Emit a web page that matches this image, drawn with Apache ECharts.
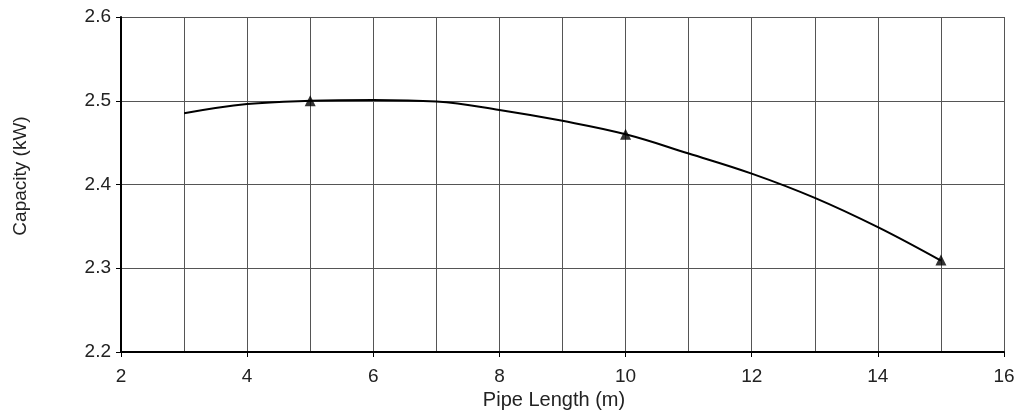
<!DOCTYPE html>
<html>
<head>
<meta charset="utf-8">
<script src="https://cdn.jsdelivr.net/npm/echarts@6/dist/echarts.min.js"></script>
<style>html,body{margin:0;padding:0;background:#fff}#c{width:1027px;height:418px}</style>
</head>
<body>
<div id="c"></div>
<script>
const curveX = [3, 4, 5, 6, 7, 8, 9, 10, 11, 12, 13, 14, 15];
const curveY = [2.485, 2.496, 2.500, 2.501, 2.499, 2.489, 2.476, 2.460, 2.437, 2.413, 2.384, 2.349, 2.309];
const markerX = [5, 10, 15];
const markerY = [2.50, 2.46, 2.31];
const xTitle = 'Pipe Length (m)';
const yTitle = 'Capacity (kW)';

const chart = echarts.init(document.getElementById('c'), null, {renderer: 'canvas'});
const font = 'Liberation Sans, Arial, Helvetica, sans-serif';
const gridStyle = {color: '#555', width: 1};
chart.setOption({
  animation: false,
  backgroundColor: '#fff',
  grid: {left: 121, right: 23, top: 17, bottom: 66, containLabel: false},
  xAxis: {
    type: 'value', min: 2, max: 16, interval: 2,
    name: xTitle, nameLocation: 'middle', nameGap: 34,
    nameTextStyle: {fontFamily: font, fontSize: 20, color: '#222', padding: [0, 17, 0, 0]},
    axisLine: {show: true, onZero: false, lineStyle: {color: '#000', width: 2}},
    axisTick: {show: true, length: 5, lineStyle: {color: '#000', width: 1}},
    axisLabel: {fontFamily: font, fontSize: 19, color: '#222', margin: 15},
    splitLine: {show: true, lineStyle: gridStyle},
    minorTick: {show: false, splitNumber: 2},
    minorSplitLine: {show: true, lineStyle: gridStyle}
  },
  yAxis: {
    type: 'value', min: 2.2, max: 2.6, interval: 0.1,
    name: yTitle, nameLocation: 'middle', nameGap: 91, nameRotate: 90,
    nameTextStyle: {fontFamily: font, fontSize: 19, color: '#222', padding: [0, 0, 0, 17]},
    axisLine: {show: true, lineStyle: {color: '#000', width: 2}},
    axisTick: {show: true, length: 5, lineStyle: {color: '#000', width: 1}},
    axisLabel: {fontFamily: font, fontSize: 19, color: '#222', margin: 10,
      formatter: v => v.toFixed(1)},
    splitLine: {show: true, lineStyle: gridStyle}
  },
  series: [
    {
      type: 'line', smooth: 0.4, symbol: 'none',
      data: curveX.map((x, i) => [x, curveY[i]]),
      lineStyle: {color: '#000', width: 2}
    },
    {
      type: 'scatter', symbol: 'triangle', symbolSize: 11,
      data: markerX.map((x, i) => [x, markerY[i]]),
      itemStyle: {color: '#000'}
    }
  ]
});
</script>
</body>
</html>
